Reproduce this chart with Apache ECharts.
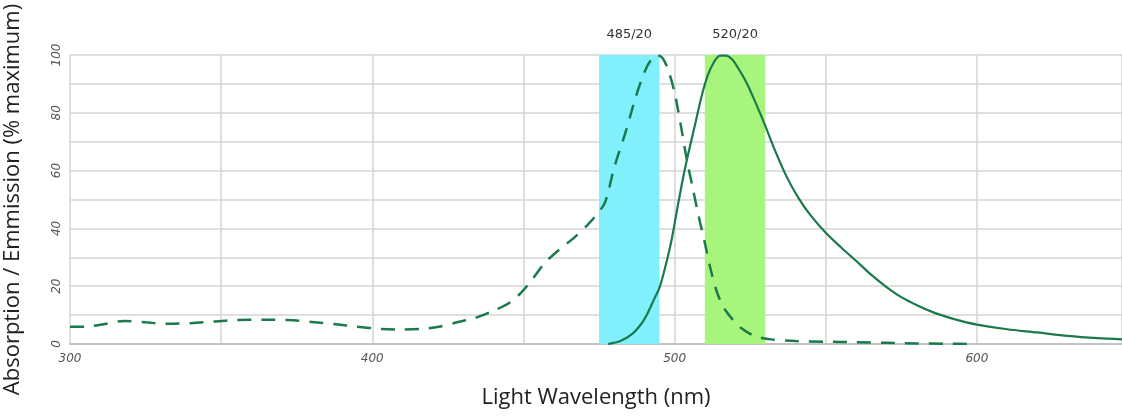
<!DOCTYPE html>
<html>
<head>
<meta charset="utf-8">
<script src="https://cdn.jsdelivr.net/npm/echarts@6/dist/echarts.min.js"></script>
<style>html,body{margin:0;padding:0;background:#fff}#c{width:1122px;height:418px}</style>
</head>
<body>
<div id="c"></div>
<script>
// Absorption (dashed) : [wavelength nm, % maximum]
const absorption = [[300,6],[305,6],[312,7],[318,8],[325,7.5],[332,7],[340,7.2],[348,7.8],[355,8.3],[365,8.4],[372,8.3],[380,7.6],[388,6.8],[395,6],[403,5.2],[410,5],[416,5.2],[422,6],[428,7.5],[434,9],[440,11.5],[445,14],[449,17.5],[453,22.5],[457,28],[462,32.8],[467,37],[471,41],[474,44.5],[477,49],[480,61],[484,74],[487,85],[490,94],[492,98],[494,100],[496,99],[498,94.5],[500,87],[502,76],[504,64],[506,54],[508,44],[510,35],[512,25.5],[514,18],[516,13],[518,10],[520,7.5],[522,5.5],[525,3.5],[528,2.3],[532,1.6],[540,1],[550,0.8],[560,0.6],[570,0.4],[580,0.2],[590,0.1],[600,0]];
// Emission (solid)
const emission = [[478,0],[482,1],[486,3.5],[489,7],[491,10.5],[493,15],[495,19.5],[497,27],[499,36],[501,47.5],[503,58.5],[505,68],[507,77],[509,86],[511,93],[513,97.5],[515,99.8],[517,99.8],[519,98.5],[521,95.5],[524,90],[527,83],[530,75.5],[533,67.5],[537,58],[541,50.5],[545,44.5],[550,38.5],[555,33.5],[560,28.8],[565,24],[570,19.8],[575,16.2],[580,13.5],[585,11.2],[590,9.4],[595,7.9],[600,6.7],[610,5.1],[620,4],[630,2.8],[640,2],[648,1.6]];
// Filter bands: [label, start nm, end nm]
const bands = [["485/20",475,495],["520/20",510,530]];
const bandColors = ["#80f0fc","#a8f57e"];
const xTickLabels = [300,400,500,600];
const yTickLabels = [0,20,40,60,80,100];

const chart = echarts.init(document.getElementById('c'));
const lineColor = '#1b7a4c';
chart.setOption({
  animation:false,
  grid:{left:70,right:0,top:55,bottom:74,outerBoundsMode:'none',containLabel:false},
  xAxis:{type:'value',min:300,max:648,interval:50,
    name:'Light Wavelength (nm)',nameLocation:'middle',nameGap:43,
    nameTextStyle:{fontFamily:'Open Sans',fontSize:22,color:'#222'},
    axisLine:{show:true,lineStyle:{color:'#c4c4c4',width:2}},
    axisTick:{show:false},
    axisLabel:{showMaxLabel:false,fontFamily:'DejaVu Sans',fontStyle:'italic',fontSize:12,color:'#555',margin:9,
      formatter:v=>xTickLabels.indexOf(v)>=0?String(v):''},
    splitLine:{show:true,lineStyle:{color:'#d4d4d4',width:1.5}}},
  yAxis:{type:'value',min:0,max:100,interval:10,
    name:'Absorption / Emmission (% maximum)',nameLocation:'middle',nameGap:46,
    nameTextStyle:{fontFamily:'Open Sans',fontSize:22,color:'#222'},
    axisLine:{show:false},axisTick:{show:false},
    axisLabel:{rotate:90,fontFamily:'DejaVu Sans',fontStyle:'italic',fontSize:12,color:'#555',margin:7,
      formatter:v=>yTickLabels.indexOf(v)>=0?String(v):''},
    splitLine:{show:true,lineStyle:{color:'#d4d4d4',width:1.5}}},
  series:[
    {type:'line',data:[],silent:true,
      markArea:{silent:true,
        label:{show:true,position:'top',distance:14,fontFamily:'DejaVu Sans',fontSize:13,color:'#333'},
        data:bands.map((b,i)=>[{name:b[0],xAxis:b[1],itemStyle:{color:bandColors[i]}},{xAxis:b[2]}])}},
    {type:'line',data:absorption,smooth:0.3,showSymbol:false,
      lineStyle:{color:lineColor,width:2.5,type:[14,10]}},
    {type:'line',data:emission,smooth:0.3,showSymbol:false,
      lineStyle:{color:lineColor,width:2.2}}
  ]
});
</script>
</body>
</html>
